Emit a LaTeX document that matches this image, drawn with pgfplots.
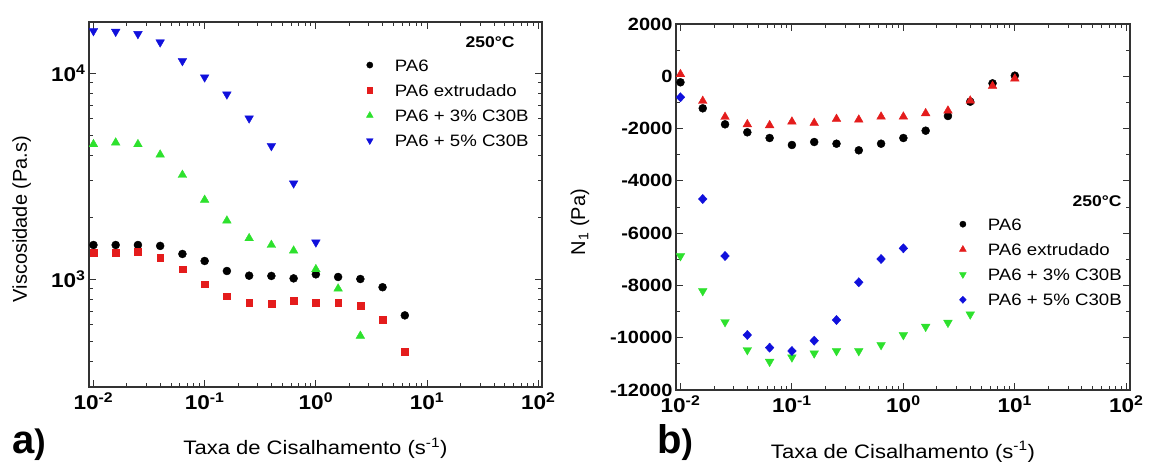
\documentclass[border=0pt]{standalone}
\usepackage{fontspec}
\setmainfont[FakeStretch=1.13]{Liberation Sans}
\newfontfamily\vfont{Liberation Sans}
\usepackage{pgfplots}
\pgfplotsset{compat=1.18}
\definecolor{cred}{RGB}{228,28,28}
\definecolor{cgreen}{RGB}{45,225,45}
\definecolor{cblue}{RGB}{16,16,220}
\newcommand{\tl}[1]{\textbf{10\textsuperscript{#1}}}
\pgfplotsset{
  legend image code/.code={\draw[#1,/tikz/every mark/.append style={scale=0.78}] plot coordinates {(0pt,0pt)}; \path[draw=none,fill=none] (0pt,0pt) rectangle (25pt,0.1pt);},
}
\pgfplotsset{
  panel/.style={
    scale only axis,
    xmin=0.00912, xmax=108,
    xtick={0.01,0.1,1,10,100},
    xticklabels={\tl{-2},\tl{-1},\tl{0},\tl{1},\tl{2}},
    minor xtick={0.02,0.03,0.04,0.05,0.06,0.07,0.08,0.09,0.2,0.3,0.4,0.5,0.6,0.7,0.8,0.9,2,3,4,5,6,7,8,9,20,30,40,50,60,70,80,90},
    axis line style={line width=1.2pt, black!80},
    every tick/.style={black!80, line width=1pt},
    major tick length=7pt, minor tick length=4pt,
    tick align=inside,
    scaled y ticks=false,
    xticklabel style={font=\fontsize{20}{20}\selectfont, yshift=-2pt},
    yticklabel style={font=\fontsize{20}{20}\selectfont},
    xlabel style={font=\fontsize{19.5}{19.5}\selectfont, at={(axis description cs:0.5,0)}, anchor=base, yshift=-68pt},
    ylabel style={font=\vfont\fontsize{20}{20}\selectfont, anchor=base},
    xlabel={Taxa de Cisalhamento (s\textsuperscript{-1})},
    legend cell align=left,
    legend style={draw=none, fill=none, inner sep=0pt, anchor=north west,
      font=\fontsize{16.5}{16.5}\selectfont,
      nodes={inner sep=0pt, text height=12pt, text depth=0pt},
      row sep=13.2pt},
    clip=false,
  },
  m1/.style={only marks, mark=*, mark size=4pt, black, mark options={draw=black, fill=black}},
  m2/.style={only marks, mark=square*, mark size=3.4pt, cred, mark options={draw=cred, fill=cred}},
  m3/.style={only marks, mark=triangle*, mark size=5pt, cgreen, mark options={draw=cgreen, fill=cgreen}},
  m4/.style={only marks, mark=triangle*, mark size=5pt, cblue, mark options={draw=cblue, fill=cblue, rotate=180}},
  m5/.style={only marks, mark=triangle*, mark size=5pt, cred, mark options={draw=cred, fill=cred}},
  m6/.style={only marks, mark=triangle*, mark size=5pt, cgreen, mark options={draw=cgreen, fill=cgreen, rotate=180}},
  m7/.style={only marks, mark=diamond*, mark size=4.6pt, cblue, mark options={draw=cblue, fill=cblue, xscale=1.25}},
}
\begin{document}
\begin{tikzpicture}[x=1pt,y=1pt]
\path[use as bounding box] (0,0) rectangle (1149,461);
% ---------------- panel a
\begin{axis}[xmode=log, ymode=log, panel, at={(89pt,74pt)}, anchor=south west, width=453pt, height=365pt,
  ymin=300, ymax=17740,
  ytick={1000,10000}, yticklabels={\tl{3},\tl{4}},
  minor ytick={400,500,600,700,800,900,2000,3000,4000,5000,6000,7000,8000,9000},
  ylabel={Viscosidade (Pa.s)},
  ylabel style={at={(axis description cs:-0.137,0.46)}},
  legend style={at={(axis description cs:0.612,0.899)}},
]
\addplot[m1] coordinates {(0.01,1467) (0.01585,1467) (0.02512,1467) (0.03981,1452) (0.0631,1327) (0.1,1227) (0.1585,1097) (0.2512,1041) (0.3981,1038) (0.631,1010) (1,1057) (1.585,1026) (2.512,1003) (3.981,915) (6.31,668)};
\addplot[m2] coordinates {(0.01,1350) (0.01585,1350) (0.02512,1357) (0.03981,1273) (0.0631,1118) (0.1,946) (0.1585,828) (0.2512,773) (0.3981,760) (0.631,785) (1,773) (1.585,771) (2.512,745) (3.981,634) (6.31,447)};
\addplot[m3] coordinates {(0.01,4522) (0.01585,4605) (0.02512,4522) (0.03981,4025) (0.0631,3209) (0.1,2427) (0.1585,1925) (0.2512,1581) (0.3981,1467) (0.631,1376) (1,1118) (1.585,900) (2.512,531)};
\addplot[m4] coordinates {(0.01,16046) (0.01585,15920) (0.02512,15520) (0.03981,14146) (0.0631,11473) (0.1,9564) (0.1585,7907) (0.2512,6047) (0.3981,4438) (0.631,2924) (1,1512)};
\legend{PA6, PA6 extrudado, PA6 + 3\% C30B, PA6 + 5\% C30B}
\node[anchor=base east, font=\bfseries\fontsize{15.5}{15.5}\selectfont] at (rel axis cs:0.947,0.930) {250°C};
\end{axis}
% ---------------- panel b
\begin{axis}[xmode=log, panel, at={(676pt,71pt)}, anchor=south west, width=454pt, height=366pt,
  ymin=-12000, ymax=2000,
  ytick={-12000,-10000,-8000,-6000,-4000,-2000,0,2000},
  yticklabels={\textbf{-12000},\textbf{-10000},\textbf{-8000},\textbf{-6000},\textbf{-4000},\textbf{-2000},\textbf{0},\textbf{2000}},
  yticklabel style={font=\fontsize{17.7}{17.7}\selectfont},
  minor y tick num=1,
  ylabel={N\textsubscript{1} (Pa)},
  ylabel style={at={(axis description cs:-0.200,0.459)}},
  legend style={at={(axis description cs:0.624,0.470)}},
]
\addplot[m1] coordinates {(0.01,-230) (0.01585,-1225) (0.02512,-1837) (0.03981,-2143) (0.0631,-2361) (0.1,-2628) (0.1585,-2514) (0.2512,-2579) (0.3981,-2831) (0.631,-2579) (1,-2361) (1.585,-2081) (2.512,-1519) (3.981,-971) (6.31,-270) (10,24)};
\addplot[m5] coordinates {(0.01,76) (0.01585,-945) (0.02512,-1557) (0.03981,-1837) (0.0631,-1875) (0.1,-1737) (0.1585,-1787) (0.2512,-1634) (0.3981,-1661) (0.631,-1546) (1,-1546) (1.585,-1416) (2.512,-1316) (3.981,-933) (6.31,-372) (10,-91)};
\addplot[m6] coordinates {(0.01,-6874) (0.01585,-8213) (0.02512,-9399) (0.03981,-10470) (0.0631,-10917) (0.1,-10749) (0.1585,-10596) (0.2512,-10508) (0.3981,-10508) (0.631,-10278) (1,-9896) (1.585,-9578) (2.512,-9425) (3.981,-9105)};
\addplot[m7] coordinates {(0.01,-804) (0.01585,-4694) (0.02512,-6874) (0.03981,-9896) (0.0631,-10381) (0.1,-10508) (0.1585,-10113) (0.2512,-9322) (0.3981,-7880) (0.631,-6989) (1,-6580)};
\legend{PA6, PA6 extrudado, PA6 + 3\% C30B, PA6 + 5\% C30B}
\node[anchor=base east, font=\bfseries\fontsize{15.5}{15.5}\selectfont] at (rel axis cs:0.989,0.501) {250°C};
\end{axis}
\node[anchor=base west, inner sep=0pt, font=\vfont\bfseries] at (12,8) {\fontsize{40}{40}\selectfont a\fontsize{34}{34}\selectfont)};
\node[anchor=base west, inner sep=0pt, font=\vfont\bfseries] at (657,8) {\fontsize{40}{40}\selectfont b\fontsize{34}{34}\selectfont)};
\end{tikzpicture}
\end{document}
